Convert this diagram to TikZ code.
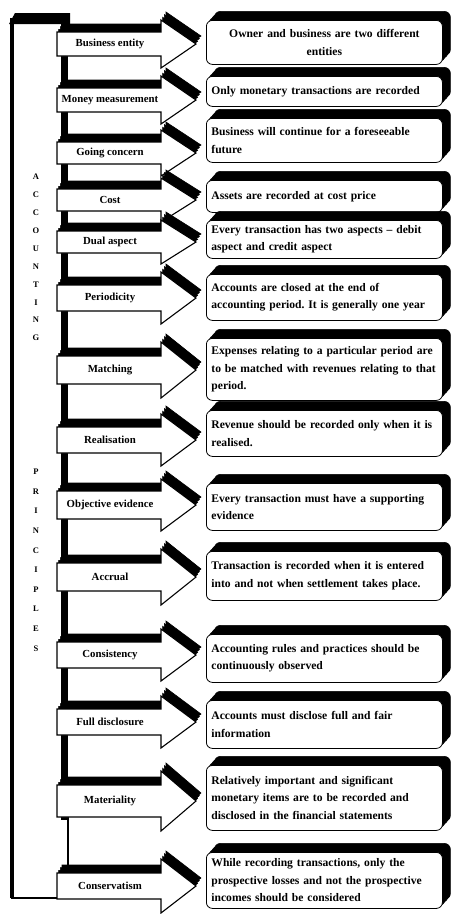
\documentclass[tikz,border=0pt]{standalone}
\usepackage{fontspec}
\setmainfont{Liberation Serif}
\usetikzlibrary{shadows}
\frenchspacing
\begin{document}
\begin{tikzpicture}[x=1pt,y=-1pt,
  arrowshade/.style={
    general shadow={fill=black,draw=black,line width=0.6pt,shadow xshift=1.7pt,shadow yshift=2.7pt},
    general shadow={fill=black,draw=black,line width=0.6pt,shadow xshift=3.4pt,shadow yshift=5.4pt},
    general shadow={fill=black,draw=black,line width=0.6pt,shadow xshift=5pt,shadow yshift=8pt}},
  boxshade/.style={
    general shadow={fill=black,draw=black,line width=0.6pt,shadow xshift=2.7pt,shadow yshift=3pt},
    general shadow={fill=black,draw=black,line width=0.6pt,shadow xshift=5.4pt,shadow yshift=6pt},
    general shadow={fill=black,draw=black,line width=0.6pt,shadow xshift=8pt,shadow yshift=9pt}},
  arrowbody/.style={draw=black,fill=white,line width=1.1pt,line join=miter,arrowshade},
  principle/.style={font=\bfseries\fontsize{10.8}{12}\selectfont,inner sep=0pt},
  notebox/.style={draw=black,fill=white,line width=0.8pt,rounded corners=6pt,boxshade,
    minimum width=236pt,text width=226pt,align=left,inner xsep=5pt,inner ysep=2pt,
    anchor=north west,font=\bfseries\fontsize{11.6}{17.5}\selectfont},
  letter/.style={font=\bfseries\fontsize{8.5}{9}\selectfont,inner sep=0pt}
]
% page
\fill[white] (0,0) rectangle (451,914);
\useasboundingbox (0,0) rectangle (451,914);

% outer bracket
\fill[black] (9,24) -- (15,13) -- (70,13) -- (70,24) -- cycle;
\draw[line width=4.5pt] (12,18) -- (12,898);
\draw[line width=2pt] (11,898) -- (63,898);

% spine joining the principle arrows
\coordinate (spinetop) at (64,18);
\coordinate (spinemid) at (64,820);
\coordinate (spinebot) at (68,880);
\draw[line width=7pt] (spinetop) -- (spinemid);
\draw[line width=1.5pt] (68,815) -- (spinebot);

% vertical title
\foreach \l [count=\i from 0] in {A,C,C,O,U,N,T,I,N,G}
  \node[letter] (ta\i) at (36,177+17.9*\i) {\l};
\foreach \l [count=\i from 0] in {P,R,I,N,C,I,P,L,E,S}
  \node[letter] (tp\i) at (36,472+19.6*\i) {\l};

% principle arrows: index / centre / body half height / head half height / label
\foreach \n/\c/\h/\H/\t in {
  1/44/12/24/{Business entity},
  2/100/12/24/{Money measurement},
  3/153/11/23/{Going concern},
  4/200/11/22/{Cost},
  5/242/11/22/{Dual aspect},
  6/298/13/26/{Periodicity},
  7/370/14/28/{Matching},
  8/440/13/26/{Realisation},
  9/505/14/26/{Objective evidence},
  10/577/14/28/{Accrual},
  11/655/13/26/{Consistency},
  12/722/13/26/{Full disclosure},
  13/801/16/30/{Materiality},
  14/886/13/27/{Conservatism}}{
  \draw[arrowbody] (57,\c-\h) -- (161,\c-\h) -- (161,\c-\H) -- (196,\c)
     -- (161,\c+\H) -- (161,\c+\h) -- (57,\c+\h) -- cycle;
  \node[principle] (p\n) at (110,\c) {\t};
}

% explanation boxes: index / top / bottom / text
\node[notebox,align=center,minimum height=44pt] (b1) at (206,20)
  {Owner and business are two different\\entities};
\foreach \n/\top/\bot/\t in {
  2/76/106/{Only monetary transactions are recorded},
  3/118/162/{Business will continue for a foreseeable\\future},
  4/180/212/{Assets are recorded at cost price},
  5/220/258/{Every transaction has two aspects -- debit\\aspect and credit aspect},
  6/274/320/{Accounts are closed at the end of\\accounting period. It is generally one year},
  7/338/400/{Expenses relating to a particular period are\\to be matched with revenues relating to that\\period.},
  8/410/456/{Revenue should be recorded only when it is\\realised.},
  9/483/530/{Every transaction must have a supporting\\evidence},
  10/551/600/{Transaction is recorded when it is entered\\into and not when settlement takes place.},
  11/634/682/{Accounting rules and practices should be\\continuously observed},
  12/700/748/{Accounts must disclose full and fair\\information},
  13/765/830/{Relatively important and significant\\monetary items are to be recorded and\\disclosed in the financial statements},
  14/852/908/{While recording transactions, only the\\prospective losses and not the prospective\\incomes should be considered}}{
  \pgfmathsetmacro\hh{\bot-\top}
  \node[notebox,minimum height=\hh pt] (b\n) at (206,\top) {\t};
}
\end{tikzpicture}
\end{document}
